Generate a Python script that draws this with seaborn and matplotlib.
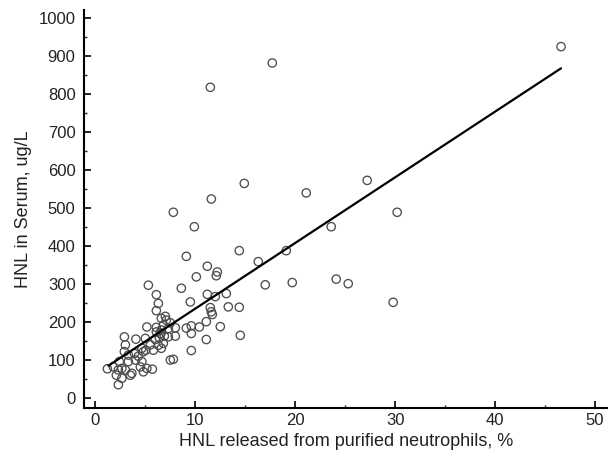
import matplotlib
matplotlib.use('Agg')
import matplotlib.pyplot as plt
from matplotlib.ticker import MultipleLocator
import seaborn as sns
import pandas as pd

# HNL released from purified neutrophils (%) vs HNL in serum (ug/L)
released_pct = [
    1.2, 2.3, 2.1, 2.65, 2.4, 2.3, 2.65, 3.0, 2.9, 3.3,
    3.3, 2.9, 3.5, 3.65, 3.9, 4.0, 4.05, 4.5, 4.65, 4.65,
    4.8, 4.8, 5.0, 5.05, 5.15, 5.15, 5.3, 5.7, 5.8, 6.0,
    6.1, 6.1, 6.1, 6.3, 6.1, 6.6, 7.1, 6.8, 7.5, 7.3,
    6.6, 6.5, 6.9, 7.3, 6.8, 6.3, 6.6, 7.5, 7.8, 8.0,
    8.0, 7.8, 8.6, 9.1, 9.1, 9.5, 9.6, 9.6, 9.6, 10.4,
    9.9, 10.1, 11.1, 11.1, 11.2, 11.2, 11.5, 11.5, 11.6, 11.7,
    12.0, 12.2, 12.1, 12.5, 13.1, 13.3, 14.4, 14.4, 14.5, 14.9,
    16.3, 17.0, 17.7, 19.1, 19.7, 21.1, 23.6, 24.1, 25.3, 27.2,
    29.8, 30.2, 46.6, 11.6, 7.0, 1.8, 3.0, 4.3, 5.5, 6.4,
]
serum_hnl = [
    77, 35, 60, 52, 96, 74, 78, 74, 122, 113,
    96, 161, 60, 65, 117, 100, 155, 82, 131, 96,
    122, 69, 157, 126, 187, 78, 297, 76, 126, 154,
    174, 186, 272, 249, 230, 210, 205, 192, 198, 183,
    179, 170, 163, 161, 144, 139, 131, 100, 102, 185,
    163, 489, 289, 184, 373, 253, 170, 125, 190, 187,
    451, 319, 201, 154, 347, 273, 238, 818, 524, 220,
    267, 332, 322, 188, 275, 240, 239, 388, 165, 565,
    359, 298, 882, 388, 304, 540, 451, 313, 301, 573,
    252, 489, 925, 227, 215, 82, 140, 110, 140, 158,
]

# regression line end points
fit_x = [1.3, 46.6]
fit_y = [85, 868]

df = pd.DataFrame({'released': released_pct, 'serum': serum_hnl})
fit = pd.DataFrame({'x': fit_x, 'y': fit_y})

sns.set_style('ticks')
plt.rcParams['font.family'] = ['Liberation Sans', 'DejaVu Sans']

fig = plt.figure(figsize=(6.08, 4.63), dpi=100)
ax = fig.add_axes([0.138, 0.119, 0.862, 0.859])

sns.scatterplot(x='released', y='serum', data=df, ax=ax, marker='o',
                s=36, facecolor='none', edgecolor='#4d4d4d', linewidth=0.95)
sns.lineplot(x='x', y='y', data=fit, ax=ax, color='black', linewidth=1.6)

ax.set_xlim(-1.15, 51.3)
ax.set_ylim(-26, 1021)
ax.xaxis.set_major_locator(MultipleLocator(10))
ax.xaxis.set_minor_locator(MultipleLocator(5))
ax.yaxis.set_major_locator(MultipleLocator(100))
ax.yaxis.set_minor_locator(MultipleLocator(50))
ax.tick_params(which='major', direction='in', length=5, width=1.2,
               labelsize=12, color='black', labelcolor='#222222')
ax.tick_params(which='minor', direction='in', length=2.5, width=1.0)
ax.tick_params(axis='y', pad=6)
ax.tick_params(axis='x', pad=4)

for side in ['top', 'right']:
    ax.spines[side].set_visible(False)
for side in ['left', 'bottom']:
    ax.spines[side].set_linewidth(1.5)
    ax.spines[side].set_color('black')

ax.set_xlabel('HNL released from purified neutrophils, %', fontsize=13,
              color='#222222', labelpad=3)
ax.set_ylabel('HNL in Serum, ug/L', fontsize=13, color='#222222', labelpad=5)

fig.savefig('out.png', dpi=100)
